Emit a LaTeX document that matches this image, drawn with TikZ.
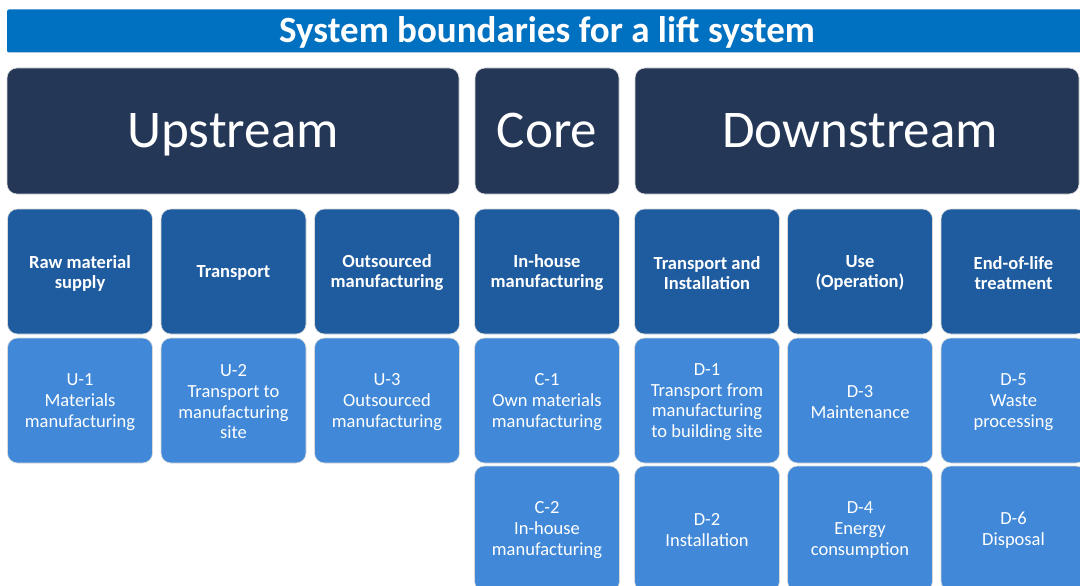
\documentclass[tikz,border=0pt]{standalone}
\usepackage{fontspec}
\setmainfont{Carlito}
\definecolor{titleblue}{HTML}{0070C0}
\definecolor{navy}{HTML}{243757}
\definecolor{midblue}{HTML}{1F5C9F}
\definecolor{lightblue}{HTML}{4189D8}
\tikzset{
  box/.style={rounded corners=10pt, draw=white!85!black, line width=0.6pt, inner sep=0pt},
  titlebar/.style={rounded corners=2pt, fill=titleblue, inner sep=0pt},
  titletxt/.style={text=white, inner sep=0pt, font=\fontsize{37}{40}\selectfont\bfseries},
  stage/.style={box, fill=navy, minimum height=126pt},
  stagetxt/.style={text=white, inner sep=0pt, font=\fontsize{53}{60}\selectfont},
  phase/.style={box, fill=midblue, minimum width=145pt, minimum height=125pt},
  phasetxt/.style={text=white, inner sep=0pt, align=center, font=\fontsize{18.5}{20}\selectfont\bfseries},
  module/.style={box, fill=lightblue, minimum width=145pt, minimum height=125pt},
  moduletxt/.style={text=white, inner sep=0pt, align=center, font=\fontsize{18.5}{20.7}\selectfont}
}
\newcommand\phasebox[4]{\node[phase] (#1) at (#2,#3) {};
  \node[phasetxt] (#1t) at ([yshift=-1.5pt]#1.center) {#4};}
\newcommand\modbox[4]{\node[module] (#1) at (#2,#3) {};
  \node[moduletxt] (#1t) at ([yshift=-1.5pt]#1.center) {#4};}
\begin{document}
\begin{tikzpicture}[x=1pt,y=-1pt]
\useasboundingbox (0,0) rectangle (1080,586);
\clip (0,0) rectangle (1080,586);
\fill[white] (0,0) rectangle (1080,586);
% title
\node[titlebar, minimum width=1083pt, minimum height=43pt] (title) at (548.5,31) {};
\node[titletxt, anchor=base] (titletext) at (547,43) {System boundaries for a lift system};
% stages
\node[stage, minimum width=452pt] (up) at (233,131) {};
\node[stage, minimum width=144pt] (core) at (547,131) {};
\node[stage, minimum width=444pt] (down) at (857,131) {};
\node[stagetxt, anchor=base] (uptxt) at (up.center |- 0,147) {Upstream};
\node[stagetxt, anchor=base] (coretxt) at (core.center |- 0,147) {Core};
\node[stagetxt, anchor=base] (downtxt) at (860,147) {Downstream};
% phases
\phasebox{p1}{80}{271.5}{Raw material\\supply}
\phasebox{p2}{233.5}{271.5}{Transport}
\phasebox{p3}{387}{271.5}{Outsourced\\manufacturing}
\phasebox{p4}{547}{271.5}{In-house\\manufacturing}
\phasebox{p5}{707}{271.5}{Transport and\\Installation}
\phasebox{p6}{860}{271.5}{Use\\(Operation)}
\phasebox{p7}{1013.5}{271.5}{End-of-life\\treatment}
% modules row 1
\modbox{u1}{80}{400.5}{U-1\\Materials\\manufacturing}
\modbox{u2}{233.5}{400.5}{U-2\\Transport to\\manufacturing\\site}
\modbox{u3}{387}{400.5}{U-3\\Outsourced\\manufacturing}
\modbox{c1}{547}{400.5}{C-1\\Own materials\\manufacturing}
\modbox{d1}{707}{400.5}{D-1\\Transport from\\manufacturing\\to building site}
\modbox{d3}{860}{400.5}{D-3\\Maintenance}
\modbox{d5}{1013.5}{400.5}{D-5\\Waste\\processing}
% modules row 2
\modbox{c2}{547}{528.5}{C-2\\In-house\\manufacturing}
\modbox{d2}{707}{528.5}{D-2\\Installation}
\modbox{d4}{860}{528.5}{D-4\\Energy\\consumption}
\modbox{d6}{1013.5}{528.5}{D-6\\Disposal}
\end{tikzpicture}
\end{document}
